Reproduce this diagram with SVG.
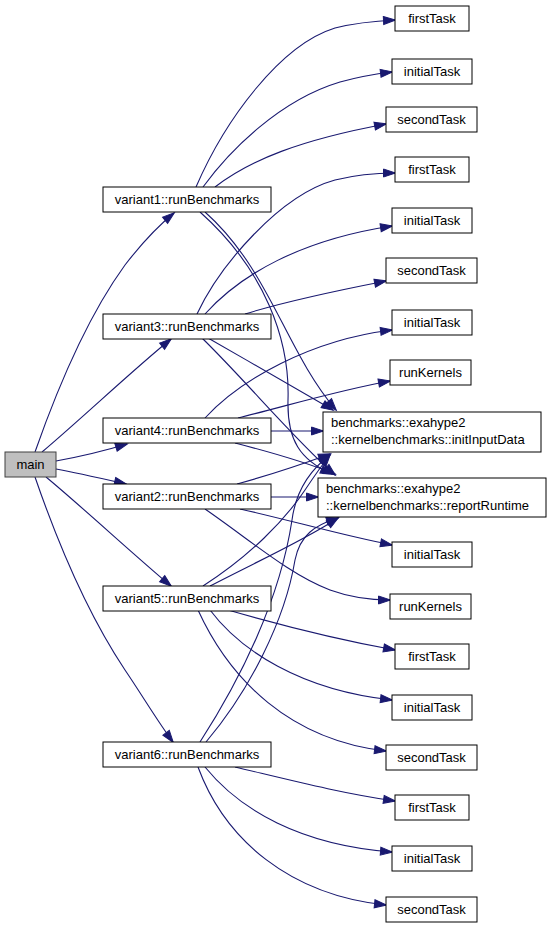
<svg xmlns="http://www.w3.org/2000/svg" width="551" height="929" viewBox="0 0 551 929">
<style>
.n rect{fill:#ffffff;stroke:#000000;stroke-width:1}
.m rect{fill:#bfbfbf;stroke:#404040;stroke-width:1}
text{font-family:"Liberation Sans",Arial,Helvetica,sans-serif;font-size:13px;fill:#000000}
.c{text-anchor:middle}
#edges path{fill:none;stroke:#191970;stroke-width:1.1;marker-end:url(#ah)}
</style>
<defs>
<marker id="ah" markerWidth="13" markerHeight="9" refX="11.5" refY="4" orient="auto" markerUnits="userSpaceOnUse" overflow="visible">
<path d="M0,0 L12,4 L0,8 z" fill="#191970" stroke="#191970" stroke-width="1"/>
</marker>
</defs>
<rect width="551" height="929" fill="#ffffff"/>
<g id="edges">
<path d="M35,452 C55,395 85,320 125,265 C142,243 158,226 174,213"/>
<path d="M42,452 C80,420 135,368 171,339"/>
<path d="M56,461 C78,457 104,451 127,444"/>
<path d="M56,469 C78,473 104,479 126,484"/>
<path d="M46,477 C80,505 135,556 171,586"/>
<path d="M35,477 C55,535 85,610 125,670 C142,695 158,722 173,742"/>
<path d="M196,187 C225,120 280,45 335,28 C355,23 375,21 395,20"/>
<path d="M203,187 C230,150 280,100 340,82 C358,77 375,74 392,72"/>
<path d="M215,187 C250,160 300,140 386,124"/>
<path d="M205,212 C270,270 285,350 336,410"/>
<path d="M200,212 C265,270 290,340 288,400 C287,440 300,460 332,474"/>
<path d="M197,314 C220,265 280,195 335,180 C355,175 375,173 395,173"/>
<path d="M205,314 C240,275 300,240 392,226"/>
<path d="M245,314 C290,300 340,290 386,281"/>
<path d="M208,338 C250,362 295,388 333,410"/>
<path d="M202,338 C245,380 295,440 335,475"/>
<path d="M205,418 C240,380 310,340 392,330"/>
<path d="M238,418 C290,405 340,390 390,381"/>
<path d="M271,431 L323,431"/>
<path d="M235,443 C270,452 305,462 335,474"/>
<path d="M237,484 C270,475 300,465 330,454"/>
<path d="M271,497 L318,497"/>
<path d="M240,509 C290,520 340,535 392,545"/>
<path d="M205,509 C250,540 290,575 330,590 C352,598 372,600 390,600"/>
<path d="M203,586 C250,556 285,520 305,490 C315,475 322,465 330,455"/>
<path d="M210,586 C260,560 305,540 338,518"/>
<path d="M228,610 C280,625 340,640 395,650"/>
<path d="M210,610 C240,650 300,690 392,700"/>
<path d="M198,610 C230,680 290,740 386,751"/>
<path d="M200,742 C240,680 280,600 292,520 C296,490 310,470 330,455"/>
<path d="M206,742 C250,690 285,620 295,560 C300,535 315,525 338,518"/>
<path d="M235,767 C290,780 340,793 395,801"/>
<path d="M205,767 C240,810 300,845 392,852"/>
<path d="M198,767 C225,840 290,895 386,905"/>
</g>
<g id="main" class="m"><rect x="5" y="452" width="51" height="25"/><text class="c" x="30.5" y="469">main</text></g>
<g id="v1" class="n"><rect x="103" y="187" width="168" height="25"/><text class="c" x="187" y="204">variant1::runBenchmarks</text></g>
<g id="v3" class="n"><rect x="103" y="314" width="168" height="25"/><text class="c" x="187" y="331">variant3::runBenchmarks</text></g>
<g id="v4" class="n"><rect x="103" y="418" width="168" height="25"/><text class="c" x="187" y="435">variant4::runBenchmarks</text></g>
<g id="v2" class="n"><rect x="103" y="484" width="168" height="25"/><text class="c" x="187" y="501">variant2::runBenchmarks</text></g>
<g id="v5" class="n"><rect x="103" y="586" width="168" height="25"/><text class="c" x="187" y="603">variant5::runBenchmarks</text></g>
<g id="v6" class="n"><rect x="103" y="742" width="168" height="25"/><text class="c" x="187" y="759">variant6::runBenchmarks</text></g>
<g id="firstTask1" class="n"><rect x="395" y="6" width="74" height="25"/><text class="c" x="432" y="23">firstTask</text></g>
<g id="initialTask1" class="n"><rect x="392" y="59" width="80" height="25"/><text class="c" x="432" y="76">initialTask</text></g>
<g id="secondTask1" class="n"><rect x="386" y="107" width="91" height="25"/><text class="c" x="431.5" y="124">secondTask</text></g>
<g id="firstTask2" class="n"><rect x="395" y="157" width="74" height="25"/><text class="c" x="432" y="174">firstTask</text></g>
<g id="initialTask2" class="n"><rect x="392" y="208" width="80" height="25"/><text class="c" x="432" y="225">initialTask</text></g>
<g id="secondTask2" class="n"><rect x="386" y="258" width="91" height="25"/><text class="c" x="431.5" y="275">secondTask</text></g>
<g id="initialTask3" class="n"><rect x="392" y="310" width="80" height="25"/><text class="c" x="432" y="327">initialTask</text></g>
<g id="runKernels1" class="n"><rect x="390" y="360" width="81" height="25"/><text class="c" x="430.5" y="377">runKernels</text></g>
<g id="initInputData" class="n"><rect x="323" y="412" width="218" height="40"/><text x="331" y="427">benchmarks::exahype2</text><text x="331" y="444">::kernelbenchmarks::initInputData</text></g>
<g id="reportRuntime" class="n"><rect x="318" y="478" width="228" height="39"/><text x="326" y="493">benchmarks::exahype2</text><text x="326" y="510">::kernelbenchmarks::reportRuntime</text></g>
<g id="initialTask4" class="n"><rect x="392" y="542" width="80" height="25"/><text class="c" x="432" y="559">initialTask</text></g>
<g id="runKernels2" class="n"><rect x="390" y="594" width="81" height="25"/><text class="c" x="430.5" y="611">runKernels</text></g>
<g id="firstTask3" class="n"><rect x="395" y="644" width="74" height="25"/><text class="c" x="432" y="661">firstTask</text></g>
<g id="initialTask5" class="n"><rect x="392" y="695" width="80" height="25"/><text class="c" x="432" y="712">initialTask</text></g>
<g id="secondTask3" class="n"><rect x="386" y="745" width="91" height="25"/><text class="c" x="431.5" y="762">secondTask</text></g>
<g id="firstTask4" class="n"><rect x="395" y="795" width="74" height="25"/><text class="c" x="432" y="812">firstTask</text></g>
<g id="initialTask6" class="n"><rect x="392" y="846" width="80" height="25"/><text class="c" x="432" y="863">initialTask</text></g>
<g id="secondTask4" class="n"><rect x="386" y="897" width="91" height="25"/><text class="c" x="431.5" y="914">secondTask</text></g>
</svg>
